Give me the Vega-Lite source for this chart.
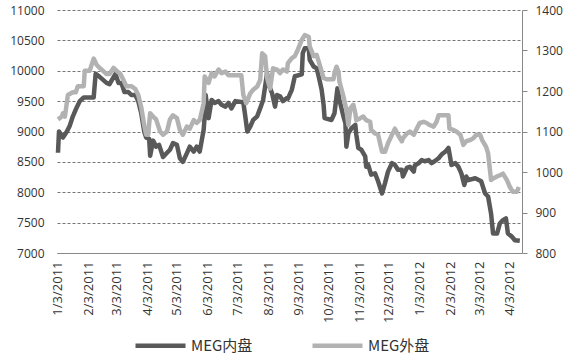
{
  "$schema": "https://vega.github.io/schema/vega-lite/v6.json",
  "width": 465,
  "height": 243,
  "autosize": {"type": "none"},
  "padding": {"left": 57, "top": 10, "right": 48, "bottom": 111},
  "background": "white",
  "config": {
    "view": {"stroke": null},
    "font": "Open Sans",
    "axis": {"labelFont": "Open Sans", "labelColor": "#333333", "labelFontSize": 12},
    "legend": {"labelFont": "Noto Sans CJK SC", "labelFontSize": 15, "labelColor": "#333333"}
  },
  "datasets": {
    "dom": [
      {"d":"2011/01/03","v":8650},{"d":"2011/01/04","v":9000},{"d":"2011/01/08","v":8900},{"d":"2011/01/12","v":9000},
      {"d":"2011/01/15","v":9100},{"d":"2011/01/18","v":9250},{"d":"2011/01/22","v":9400},{"d":"2011/01/25","v":9500},
      {"d":"2011/01/29","v":9560},{"d":"2011/02/08","v":9560},{"d":"2011/02/10","v":9950},{"d":"2011/02/14","v":9900},
      {"d":"2011/02/21","v":9800},{"d":"2011/02/24","v":9780},{"d":"2011/03/02","v":9950},{"d":"2011/03/05","v":9800},
      {"d":"2011/03/08","v":9800},{"d":"2011/03/11","v":9650},{"d":"2011/03/15","v":9650},{"d":"2011/03/18","v":9600},
      {"d":"2011/03/22","v":9600},{"d":"2011/03/25","v":9500},{"d":"2011/03/28","v":9300},{"d":"2011/03/31","v":9000},
      {"d":"2011/04/02","v":8900},{"d":"2011/04/05","v":8880},{"d":"2011/04/06","v":8600},{"d":"2011/04/09","v":8850},
      {"d":"2011/04/12","v":8750},{"d":"2011/04/15","v":8780},{"d":"2011/04/19","v":8580},{"d":"2011/04/23","v":8650},
      {"d":"2011/04/26","v":8700},{"d":"2011/04/29","v":8810},{"d":"2011/05/03","v":8780},{"d":"2011/05/06","v":8560},
      {"d":"2011/05/09","v":8500},{"d":"2011/05/13","v":8640},{"d":"2011/05/16","v":8750},{"d":"2011/05/20","v":8670},
      {"d":"2011/05/23","v":8750},{"d":"2011/05/26","v":8670},{"d":"2011/05/30","v":9030},{"d":"2011/05/31","v":9250},
      {"d":"2011/06/01","v":9600},{"d":"2011/06/04","v":9220},{"d":"2011/06/07","v":9520},{"d":"2011/06/10","v":9470},
      {"d":"2011/06/14","v":9500},{"d":"2011/06/17","v":9440},{"d":"2011/06/21","v":9410},{"d":"2011/06/24","v":9470},
      {"d":"2011/06/27","v":9380},{"d":"2011/07/01","v":9500},{"d":"2011/07/09","v":9480},{"d":"2011/07/11","v":9250},
      {"d":"2011/07/13","v":9000},{"d":"2011/07/16","v":9080},{"d":"2011/07/19","v":9190},{"d":"2011/07/23","v":9250},
      {"d":"2011/07/26","v":9380},{"d":"2011/07/29","v":9520},{"d":"2011/08/02","v":9960},{"d":"2011/08/03","v":9800},
      {"d":"2011/08/07","v":9630},{"d":"2011/08/10","v":9410},{"d":"2011/08/12","v":9600},{"d":"2011/08/15","v":9580},
      {"d":"2011/08/18","v":9500},{"d":"2011/08/22","v":9550},{"d":"2011/08/23","v":9540},{"d":"2011/08/27","v":9690},
      {"d":"2011/08/30","v":9910},{"d":"2011/09/06","v":9940},{"d":"2011/09/07","v":10290},{"d":"2011/09/09","v":10370},
      {"d":"2011/09/13","v":10370},{"d":"2011/09/14","v":10180},{"d":"2011/09/18","v":10070},{"d":"2011/09/21","v":10040},
      {"d":"2011/09/23","v":9910},{"d":"2011/09/26","v":9690},{"d":"2011/09/28","v":9440},{"d":"2011/09/29","v":9220},
      {"d":"2011/10/06","v":9190},{"d":"2011/10/09","v":9300},{"d":"2011/10/12","v":9710},{"d":"2011/10/14","v":9520},
      {"d":"2011/10/18","v":9250},{"d":"2011/10/20","v":9140},{"d":"2011/10/21","v":8750},{"d":"2011/10/23","v":8970},
      {"d":"2011/10/26","v":9050},{"d":"2011/10/30","v":9110},{"d":"2011/10/31","v":8950},{"d":"2011/11/02","v":8730},
      {"d":"2011/11/05","v":8700},{"d":"2011/11/09","v":8590},{"d":"2011/11/10","v":8420},{"d":"2011/11/12","v":8450},
      {"d":"2011/11/15","v":8290},{"d":"2011/11/19","v":8310},{"d":"2011/11/22","v":8180},{"d":"2011/11/26","v":7980},
      {"d":"2011/11/29","v":8150},{"d":"2011/12/02","v":8340},{"d":"2011/12/06","v":8480},{"d":"2011/12/09","v":8450},
      {"d":"2011/12/12","v":8370},{"d":"2011/12/16","v":8370},{"d":"2011/12/17","v":8260},{"d":"2011/12/21","v":8400},
      {"d":"2011/12/24","v":8420},{"d":"2011/12/28","v":8340},{"d":"2011/12/29","v":8440},{"d":"2012/01/02","v":8480},
      {"d":"2012/01/05","v":8530},{"d":"2012/01/08","v":8510},{"d":"2012/01/12","v":8530},{"d":"2012/01/15","v":8480},
      {"d":"2012/01/18","v":8510},{"d":"2012/01/22","v":8560},{"d":"2012/01/25","v":8620},{"d":"2012/01/29","v":8670},
      {"d":"2012/02/01","v":8730},{"d":"2012/02/02","v":8640},{"d":"2012/02/04","v":8450},{"d":"2012/02/08","v":8480},
      {"d":"2012/02/11","v":8420},{"d":"2012/02/14","v":8310},{"d":"2012/02/17","v":8120},{"d":"2012/02/19","v":8260},
      {"d":"2012/02/21","v":8200},{"d":"2012/02/28","v":8230},{"d":"2012/03/05","v":8180},{"d":"2012/03/09","v":7980},
      {"d":"2012/03/12","v":7930},{"d":"2012/03/15","v":7650},{"d":"2012/03/17","v":7320},{"d":"2012/03/21","v":7320},
      {"d":"2012/03/24","v":7490},{"d":"2012/03/27","v":7540},{"d":"2012/03/30","v":7570},{"d":"2012/04/01","v":7320},
      {"d":"2012/04/05","v":7270},{"d":"2012/04/08","v":7210},{"d":"2012/04/13","v":7200}
    ],
    "ext": [
      {"d":"2011/01/03","v":1130},{"d":"2011/01/07","v":1137},{"d":"2011/01/08","v":1145},{"d":"2011/01/10","v":1137},
      {"d":"2011/01/13","v":1190},{"d":"2011/01/18","v":1197},{"d":"2011/01/21","v":1197},{"d":"2011/01/23","v":1212},
      {"d":"2011/01/29","v":1212},{"d":"2011/01/30","v":1250},{"d":"2011/02/04","v":1250},{"d":"2011/02/08","v":1280},
      {"d":"2011/02/11","v":1265},{"d":"2011/02/14","v":1257},{"d":"2011/02/21","v":1242},{"d":"2011/02/24","v":1242},
      {"d":"2011/02/28","v":1257},{"d":"2011/03/03","v":1250},{"d":"2011/03/07","v":1242},{"d":"2011/03/10","v":1227},
      {"d":"2011/03/13","v":1212},{"d":"2011/03/18","v":1212},{"d":"2011/03/22","v":1205},{"d":"2011/03/25","v":1190},
      {"d":"2011/03/28","v":1160},{"d":"2011/03/31","v":1115},{"d":"2011/04/02","v":1092},{"d":"2011/04/04","v":1092},
      {"d":"2011/04/06","v":1145},{"d":"2011/04/09","v":1137},{"d":"2011/04/12","v":1130},{"d":"2011/04/16","v":1100},
      {"d":"2011/04/19","v":1092},{"d":"2011/04/23","v":1100},{"d":"2011/04/26","v":1130},{"d":"2011/04/29","v":1140},
      {"d":"2011/05/03","v":1133},{"d":"2011/05/06","v":1104},{"d":"2011/05/09","v":1092},{"d":"2011/05/13","v":1112},
      {"d":"2011/05/16","v":1107},{"d":"2011/05/20","v":1128},{"d":"2011/05/23","v":1121},{"d":"2011/05/26","v":1128},
      {"d":"2011/05/30","v":1170},{"d":"2011/05/31","v":1236},{"d":"2011/06/04","v":1220},{"d":"2011/06/07","v":1244},
      {"d":"2011/06/10","v":1236},{"d":"2011/06/14","v":1253},{"d":"2011/06/17","v":1244},{"d":"2011/06/21","v":1248},
      {"d":"2011/06/24","v":1239},{"d":"2011/07/07","v":1239},{"d":"2011/07/09","v":1190},{"d":"2011/07/12","v":1170},
      {"d":"2011/07/16","v":1194},{"d":"2011/07/19","v":1203},{"d":"2011/07/23","v":1211},{"d":"2011/07/26","v":1227},
      {"d":"2011/07/28","v":1293},{"d":"2011/07/31","v":1286},{"d":"2011/08/02","v":1232},{"d":"2011/08/05","v":1206},
      {"d":"2011/08/08","v":1256},{"d":"2011/08/12","v":1253},{"d":"2011/08/15","v":1244},{"d":"2011/08/18","v":1253},
      {"d":"2011/08/22","v":1248},{"d":"2011/08/23","v":1269},{"d":"2011/08/27","v":1281},{"d":"2011/08/30","v":1286},
      {"d":"2011/09/02","v":1302},{"d":"2011/09/06","v":1326},{"d":"2011/09/09","v":1338},{"d":"2011/09/13","v":1334},
      {"d":"2011/09/14","v":1310},{"d":"2011/09/18","v":1286},{"d":"2011/09/21","v":1289},{"d":"2011/09/24","v":1265},
      {"d":"2011/09/28","v":1232},{"d":"2011/10/01","v":1229},{"d":"2011/10/08","v":1229},{"d":"2011/10/09","v":1244},
      {"d":"2011/10/11","v":1260},{"d":"2011/10/13","v":1248},{"d":"2011/10/14","v":1223},{"d":"2011/10/18","v":1187},
      {"d":"2011/10/21","v":1154},{"d":"2011/10/23","v":1116},{"d":"2011/10/25","v":1157},{"d":"2011/10/28","v":1166},
      {"d":"2011/10/30","v":1145},{"d":"2011/10/31","v":1128},{"d":"2011/11/04","v":1133},{"d":"2011/11/07","v":1137},
      {"d":"2011/11/10","v":1128},{"d":"2011/11/14","v":1124},{"d":"2011/11/15","v":1104},{"d":"2011/11/19","v":1095},
      {"d":"2011/11/22","v":1092},{"d":"2011/11/26","v":1050},{"d":"2011/11/29","v":1050},{"d":"2011/12/02","v":1071},
      {"d":"2011/12/06","v":1092},{"d":"2011/12/09","v":1107},{"d":"2011/12/12","v":1092},{"d":"2011/12/16","v":1076},
      {"d":"2011/12/17","v":1083},{"d":"2011/12/21","v":1095},{"d":"2011/12/24","v":1100},{"d":"2011/12/28","v":1092},
      {"d":"2011/12/31","v":1107},{"d":"2012/01/03","v":1121},{"d":"2012/01/07","v":1124},{"d":"2012/01/10","v":1121},
      {"d":"2012/01/13","v":1116},{"d":"2012/01/17","v":1112},{"d":"2012/01/20","v":1124},{"d":"2012/01/22","v":1140},
      {"d":"2012/02/01","v":1140},{"d":"2012/02/02","v":1107},{"d":"2012/02/06","v":1104},{"d":"2012/02/09","v":1100},
      {"d":"2012/02/13","v":1092},{"d":"2012/02/16","v":1067},{"d":"2012/02/19","v":1076},{"d":"2012/02/23","v":1079},
      {"d":"2012/02/26","v":1083},{"d":"2012/02/29","v":1092},{"d":"2012/03/04","v":1092},{"d":"2012/03/06","v":1079},
      {"d":"2012/03/10","v":1062},{"d":"2012/03/12","v":1046},{"d":"2012/03/15","v":980},{"d":"2012/03/17","v":984},
      {"d":"2012/03/21","v":989},{"d":"2012/03/24","v":992},{"d":"2012/03/27","v":996},{"d":"2012/03/31","v":980},
      {"d":"2012/04/03","v":963},{"d":"2012/04/06","v":951},{"d":"2012/04/10","v":951},{"d":"2012/04/12","v":963}
    ]
  },
  "encoding": {
    "x": {
      "field": "d",
      "type": "temporal",
      "scale": {
        "domain": [{"year": 2011, "month": 1, "date": 2}, {"year": 2012, "month": 4, "date": 15, "hours": 5}]
      },
      "axis": {
        "title": null,
        "format": "%-m/%-d/%Y",
        "labelAngle": -90,
        "labelFontSize": 13,
        "labelPadding": 8,
        "ticks": false,
        "grid": false,
        "domainColor": "#888888",
        "labelOverlap": false,
        "values": [
          {"year": 2011, "month": 1, "date": 3}, {"year": 2011, "month": 2, "date": 3},
          {"year": 2011, "month": 3, "date": 3}, {"year": 2011, "month": 4, "date": 3},
          {"year": 2011, "month": 5, "date": 3}, {"year": 2011, "month": 6, "date": 3},
          {"year": 2011, "month": 7, "date": 3}, {"year": 2011, "month": 8, "date": 3},
          {"year": 2011, "month": 9, "date": 3}, {"year": 2011, "month": 10, "date": 3},
          {"year": 2011, "month": 11, "date": 3}, {"year": 2011, "month": 12, "date": 3},
          {"year": 2012, "month": 1, "date": 3}, {"year": 2012, "month": 2, "date": 3},
          {"year": 2012, "month": 3, "date": 3}, {"year": 2012, "month": 4, "date": 3}
        ]
      }
    }
  },
  "layer": [
    {
      "data": {"name": "dom"},
      "mark": {"type": "line", "strokeWidth": 4.5, "strokeJoin": "round", "clip": false},
      "encoding": {
        "y": {
          "field": "v",
          "type": "quantitative",
          "scale": {"domain": [7000, 11000], "nice": false, "zero": false},
          "axis": {
            "title": null,
            "orient": "left",
            "format": "d",
            "values": [7000, 7500, 8000, 8500, 9000, 9500, 10000, 10500, 11000],
            "domain": false,
            "ticks": false,
            "labelPadding": 13,
            "grid": true,
            "gridColor": "#777777",
            "gridDash": [3, 2],
            "gridWidth": 1
          }
        },
        "color": {
          "datum": "MEG内盘",
          "type": "nominal",
          "scale": {"domain": ["MEG内盘", "MEG外盘"], "range": ["#595959", "#b2b2b2"]},
          "legend": {
            "title": null,
            "orient": "none",
            "direction": "horizontal",
            "legendX": 76,
            "legendY": 308,
            "symbolType": "stroke",
            "symbolSize": 2500,
            "symbolStrokeWidth": 4.5,
            "labelOffset": 3,
            "columnPadding": 50
          }
        }
      }
    },
    {
      "data": {"name": "ext"},
      "mark": {"type": "line", "strokeWidth": 4.5, "strokeJoin": "round", "clip": false},
      "encoding": {
        "y": {
          "field": "v",
          "type": "quantitative",
          "scale": {"domain": [800, 1400], "nice": false, "zero": false},
          "axis": {
            "title": null,
            "orient": "right",
            "format": "d",
            "values": [800, 900, 1000, 1100, 1200, 1300, 1400],
            "domain": true,
            "domainColor": "#888888",
            "ticks": true,
            "tickSize": 5,
            "tickColor": "#888888",
            "labelPadding": 8,
            "grid": false
          }
        },
        "color": {"datum": "MEG外盘", "type": "nominal"}
      }
    }
  ],
  "resolve": {"scale": {"y": "independent"}}
}
